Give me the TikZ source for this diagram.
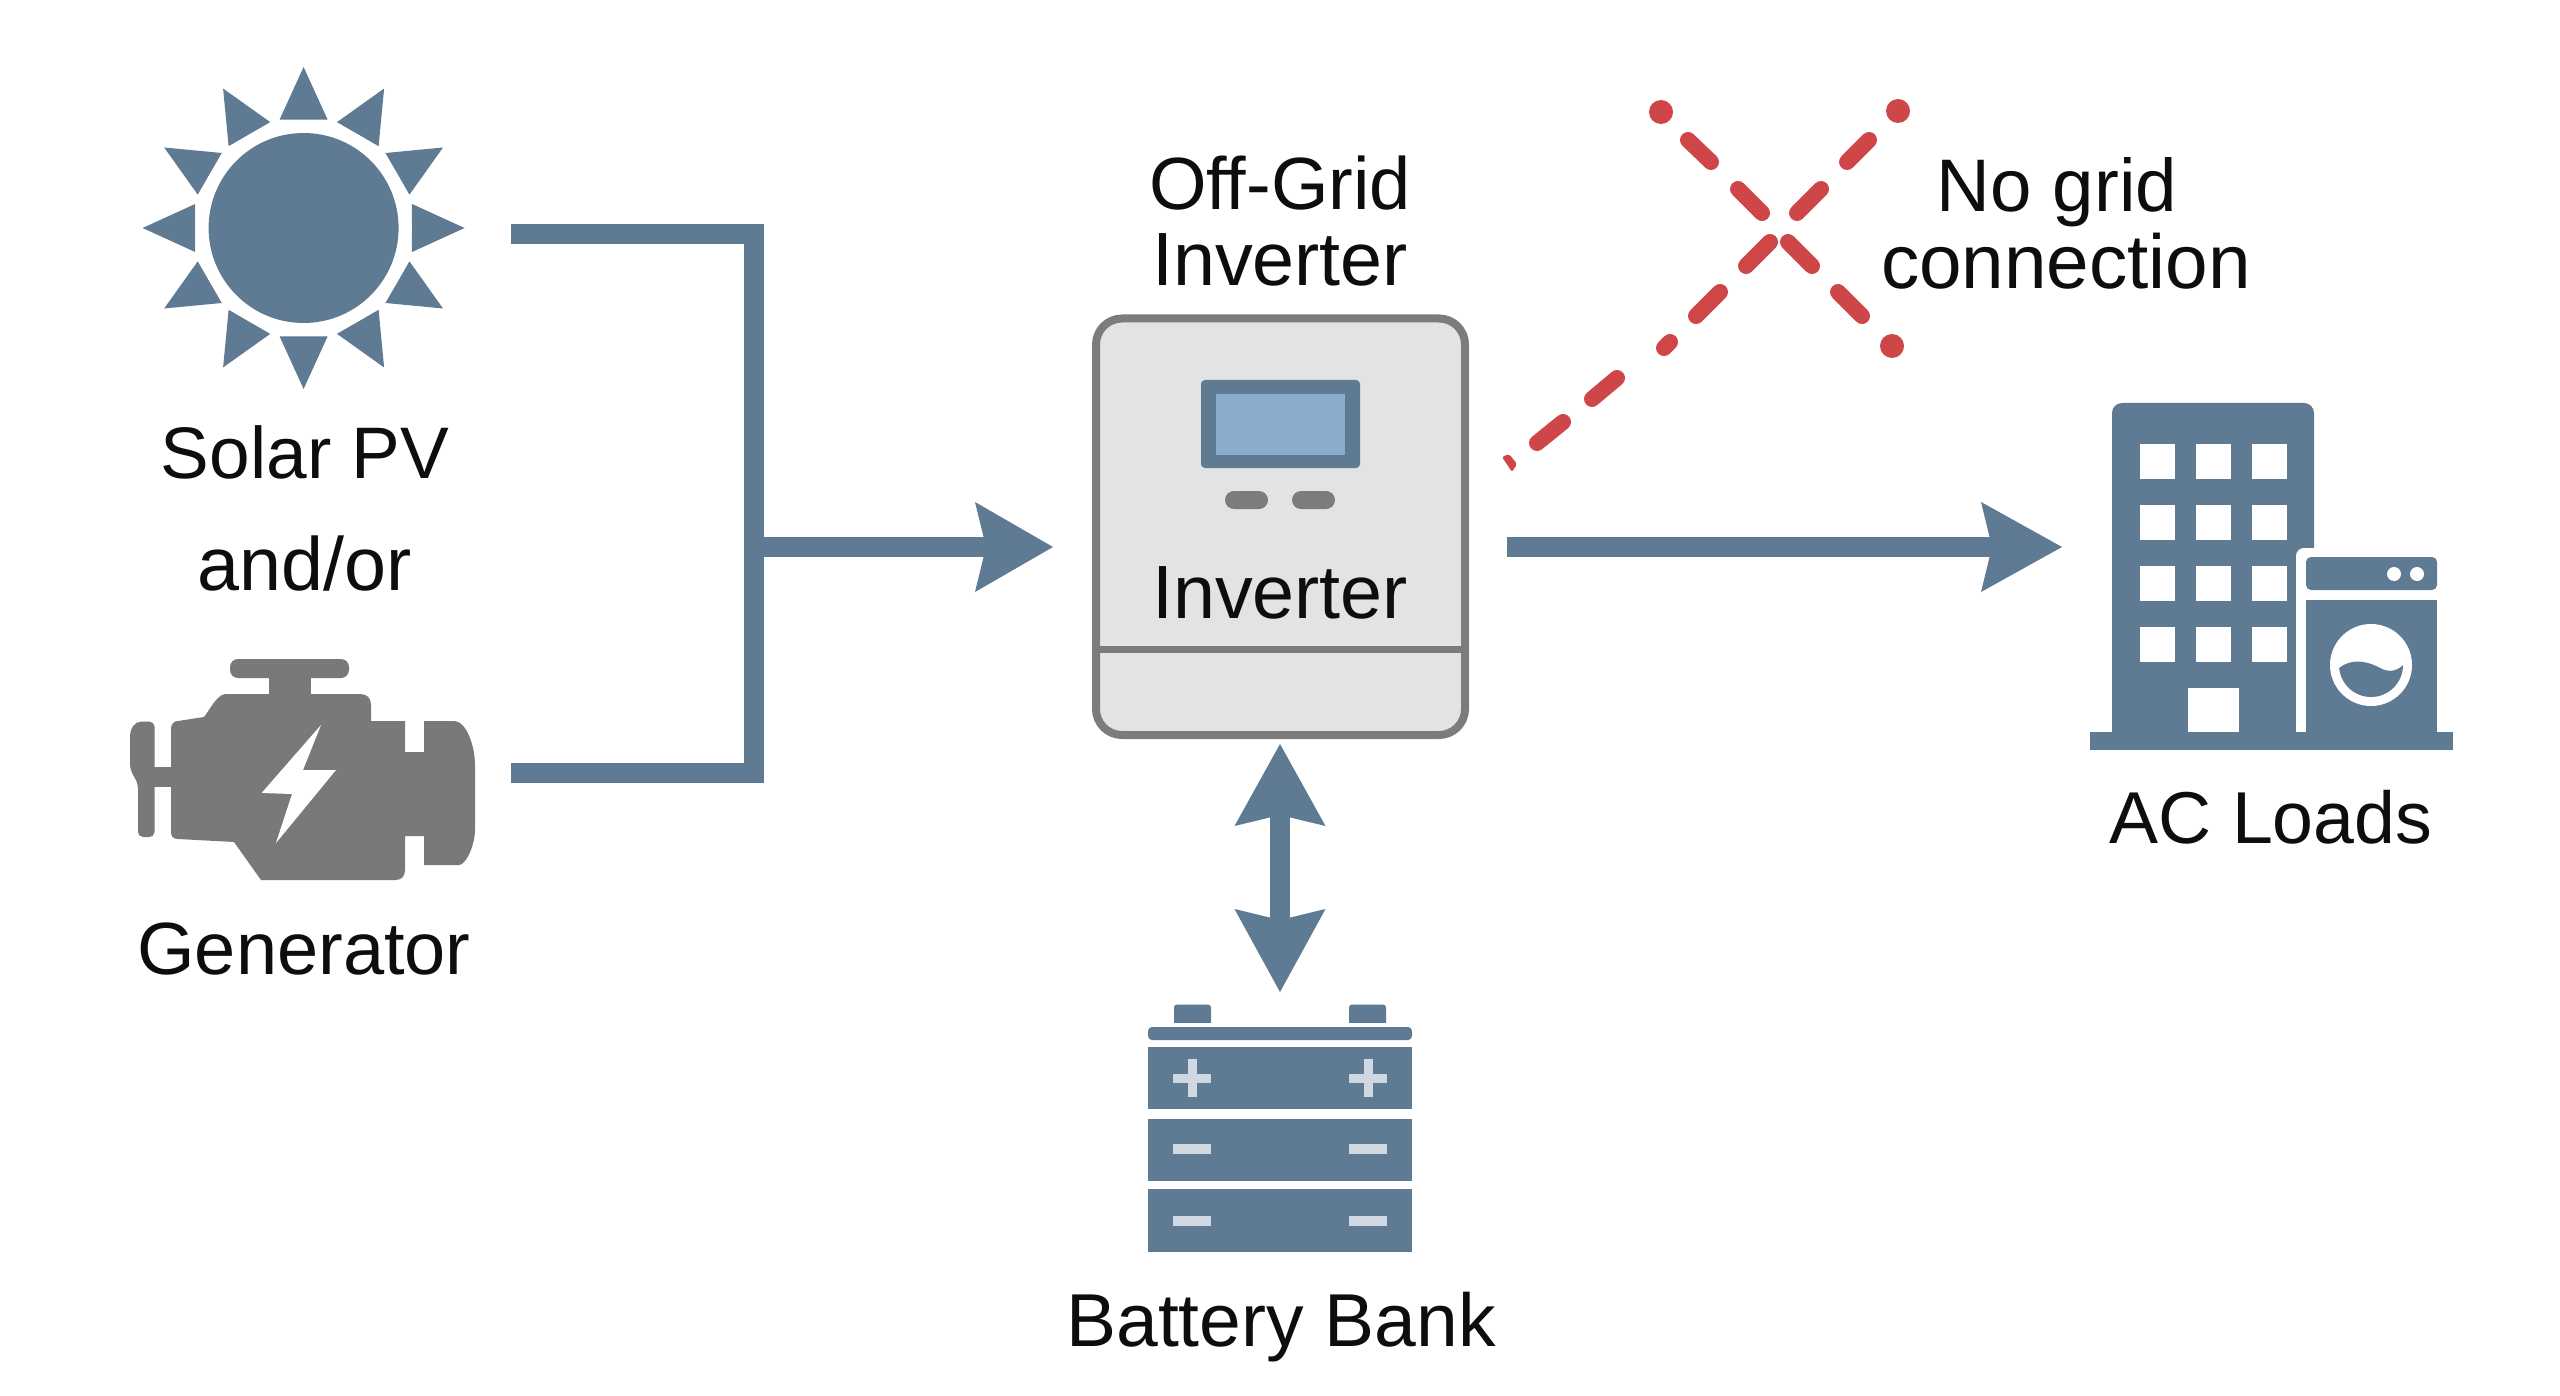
\documentclass[tikz,border=0pt]{standalone}
\usepackage{fontspec}
\setmainfont{Liberation Sans}
\usetikzlibrary{arrows.meta}
\definecolor{steel}{HTML}{5F7A93}
\definecolor{enginegray}{HTML}{797979}
\definecolor{casegray}{HTML}{7C7C7C}
\definecolor{casefill}{HTML}{E3E3E3}
\definecolor{screenblue}{HTML}{8AABC9}
\definecolor{battmark}{HTML}{D0D9E2}
\definecolor{nogridred}{HTML}{CF4649}
\definecolor{ink}{HTML}{0D0D0D}
\tikzset{
  lab/.style={anchor=base,inner sep=0pt,text=ink,font=\fontsize{74}{76}\selectfont},
  labm/.style={lab,font=\fontsize{75.5}{76}\selectfont},
  labs/.style={lab,font=\fontsize{73}{76}\selectfont},
  flow/.style={draw=steel,line width=20pt,line cap=butt,miter limit=10},
  redline/.style={draw=nogridred,line width=16pt,line cap=round}
}
\begin{document}
\begin{tikzpicture}[x=1pt,y=-1pt]
\useasboundingbox (0,0) rectangle (2560,1396);
\fill[white] (0,0) rectangle (2560,1396);

% Sun
\begin{scope}[shift={(303.6,228)}]
  \foreach \a in {0,30,...,330}{
    \fill[steel] ({\a}:161) -- ({\a+12.5}:111) -- ({\a-12.5}:111) -- cycle;
  }
  \fill[white] (0,0) circle[radius=108pt];
  \fill[steel] (0,0) circle[radius=95pt];
\end{scope}
\node[labs] (solarlab) at (305,478) {Solar PV};
\node[labm] (orlab) at (305,590) {and/or};

% Generator
\fill[enginegray,rounded corners=8pt] (230,659) rectangle (349,678);
\fill[enginegray] (269,670) rectangle (311,700);
\fill[enginegray]
  (225,694) -- (360,694) .. controls (367,694) and (371,698) .. (371,705) -- (371,721)
  -- (405,721) -- (405,752) -- (424,752) -- (424,721) -- (455,721)
  .. controls (466,722) and (475,745) .. (475,765) -- (475,830)
  .. controls (475,845) and (466,865) .. (459,865) -- (424,865) -- (424,836) -- (405,836)
  -- (405,870) .. controls (405,877) and (401,880) .. (395,880) -- (261,880) -- (234,842)
  -- (178,839) .. controls (173,839) and (171,836) .. (171,832) -- (171,729)
  .. controls (171,724) and (174,721) .. (178,721) -- (204,717)
  .. controls (211,708) and (216,696) .. (225,694) -- cycle;
\fill[enginegray] (150,767) rectangle (175,787);
\fill[enginegray,rounded corners=5pt]
  (154.5,721.6) -- (136,721.6) -- (130,731) -- (130,769) -- (138,784) -- (138,837) -- (154.5,837) -- cycle;
\fill[white] (321,725) -- (261.6,793) -- (292,794) -- (276,843) -- (336,770) -- (303,770) -- cycle;
\node[lab] (genlab) at (304,974) {Generator};

% Bus and arrows
\coordinate (solarout) at (511,234);
\coordinate (genout) at (511,773);
\coordinate (bustop) at (754,234);
\coordinate (busbot) at (754,773);
\coordinate (busjoin) at (754,547);
\coordinate (invin) at (1053,547);
\coordinate (invout) at (1507,547);
\coordinate (loadin) at (2062,547);
\coordinate (battop) at (1280,744);
\coordinate (batbot) at (1280,992);
\draw[flow] (solarout) -- (bustop) -- (busbot) -- (genout);
\draw[flow,-{Stealth[length=78pt,width=90pt,inset=11pt,line width=0pt]}] (busjoin) -- (invin);
\draw[flow,-{Stealth[length=81pt,width=90pt,inset=11pt,line width=0pt]}] (invout) -- (loadin);
\draw[flow,{Stealth[length=82pt,width=91pt,inset=11pt,line width=0pt]}-{Stealth[length=83pt,width=91pt,inset=11pt,line width=0pt]}] (battop) -- (batbot);

% Inverter
\node[lab] (invtitle1) at (1280,209.6) {Off-Grid};
\node[labm] (invtitle2) at (1280,286) {Inverter};
\draw[draw=casegray,fill=casefill,line width=8pt,rounded corners=26pt] (1096,318.5) rectangle (1465,735);
\draw[draw=casegray,line width=7pt] (1096,649) -- (1465,649);
\fill[steel,rounded corners=4pt] (1201,380) rectangle (1360,468);
\fill[screenblue] (1216,394) rectangle (1345,455);
\fill[casegray,rounded corners=9pt] (1225,491) rectangle (1268,509);
\fill[casegray,rounded corners=9pt] (1292,491) rectangle (1335,509);
\node[labm] (invlab) at (1280,618) {Inverter};

% No grid cross
\foreach \p/\q in {1661/112,1892/346,1898/111}{
  \fill[nogridred] (\p,\q) circle[radius=12pt];
}
\foreach \xa/\ya/\xb/\yb in {
  1688/140/1711/162, 1738/189/1762/213, 1788/242/1812/266, 1838/292/1862/316,
  1869/140/1847/162, 1821/189/1797/213, 1770/242/1746/266, 1720/292/1696/316,
  1670/342/1664/348, 1617/378/1592/399, 1563/422/1537/443}{
  \draw[redline] (\xa,\ya) -- (\xb,\yb);
}
\fill[nogridred,rounded corners=2pt] (1502,457) -- (1509,454) -- (1517,464) -- (1512,472) -- cycle;
\node[lab,font=\fontsize{74.5}{76}\selectfont] (nogridlab) at (2057,212) {No grid};
\node[lab,font=\fontsize{76.5}{76}\selectfont] (connlab) at (2066,289) {connection};

% Building
\fill[steel,rounded corners=10pt] (2112,403) rectangle (2314,600);
\fill[steel] (2112,560) rectangle (2314,740);
\foreach \yy in {444,505,566,627}{
  \foreach \xx in {2140,2196,2252}{
    \fill[white] (\xx,\yy) rectangle ++(34.5,34.5);
  }
}
\fill[white] (2188,688) rectangle (2239,733);
\fill[white,rounded corners=8pt] (2296,548) rectangle (2460,760);
\fill[steel] (2090,732) rectangle (2453,750);
\fill[steel,rounded corners=5pt] (2306,557) -- (2437,557) -- (2437,590) -- (2306,590) -- cycle;
\fill[steel] (2306,600) rectangle (2437,733);
\fill[white] (2394,574) circle[radius=7pt];
\fill[white] (2417,574) circle[radius=7pt];
\fill[white] (2371,665) circle[radius=41pt];
\begin{scope}
  \clip (2371,665) circle[radius=32pt];
  \fill[steel] (2335,672) .. controls (2345,660) and (2362,658) .. (2380,668)
     .. controls (2390,673) and (2398,672) .. (2408,660) -- (2410,710) -- (2330,710) -- cycle;
\end{scope}
\node[lab,font=\fontsize{73.5}{76}\selectfont] (acload) at (2271,843) {AC Loads};

% Battery
\fill[steel,rounded corners=3pt] (1174,1004.5) rectangle (1211,1026);
\fill[steel,rounded corners=3pt] (1349,1004.5) rectangle (1386,1026);
\fill[white] (1148,1022.5) rectangle (1412,1027);
\fill[steel,rounded corners=4pt] (1148,1040) -- (1148,1027) -- (1412,1027) -- (1412,1040) -- cycle;
\fill[steel] (1148,1047) rectangle (1412,1109);
\fill[steel] (1148,1119) rectangle (1412,1181);
\fill[steel] (1148,1189) rectangle (1412,1252);
\foreach \cx in {1192,1368}{
  \fill[battmark] (\cx-19,1073.5) rectangle (\cx+19,1082.5);
  \fill[battmark] (\cx-4.5,1059) rectangle (\cx+4.5,1097);
  \fill[battmark] (\cx-19,1144) rectangle (\cx+19,1154);
  \fill[battmark] (\cx-19,1216) rectangle (\cx+19,1226);
}
\node[lab,font=\fontsize{75}{76}\selectfont] (batlab) at (1281,1346) {Battery Bank};
\end{tikzpicture}
\end{document}
